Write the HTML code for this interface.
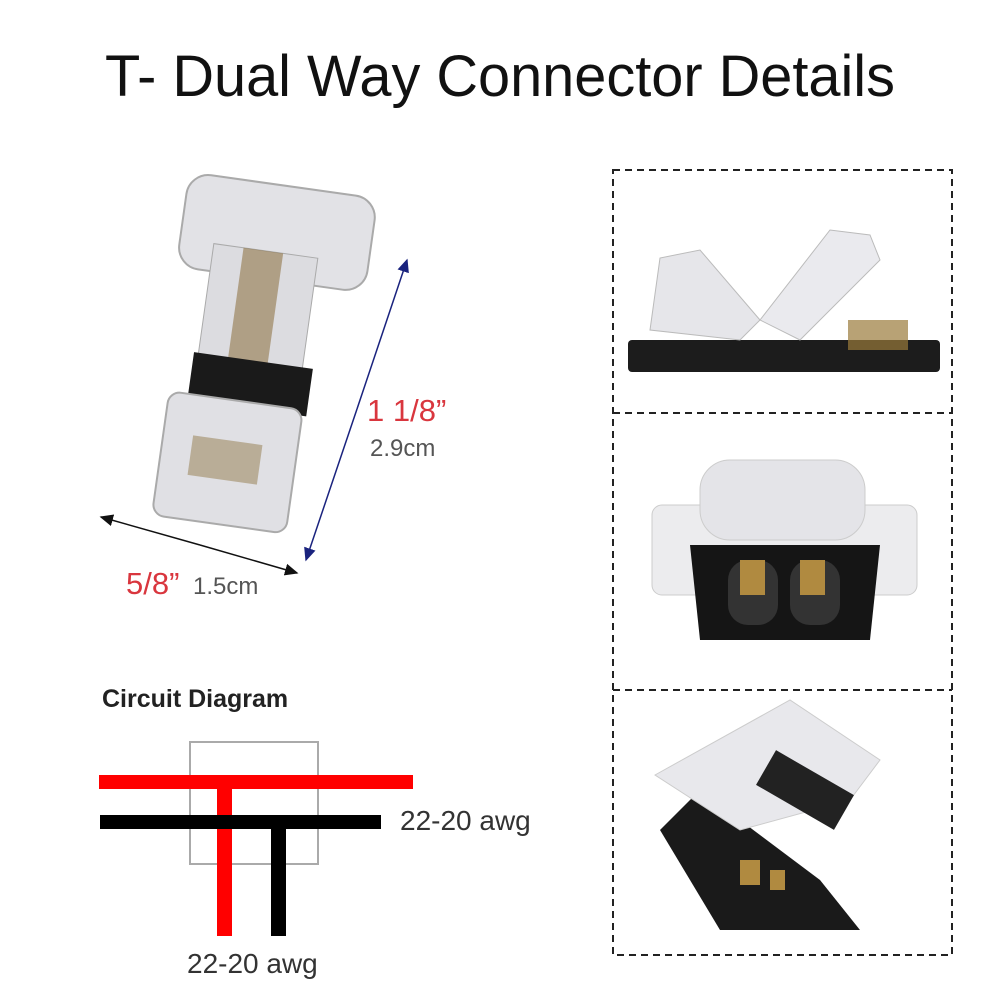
<!DOCTYPE html>
<html><head><meta charset="utf-8"><style>
body{margin:0;background:#fff;width:1000px;height:1000px;overflow:hidden;font-family:"Liberation Sans",sans-serif}
</style></head><body>
<svg width="1000" height="1000" viewBox="0 0 1000 1000" xmlns="http://www.w3.org/2000/svg">
<text x="500" y="96" font-size="58" text-anchor="middle" fill="#111" font-family="Liberation Sans" textLength="790" lengthAdjust="spacingAndGlyphs">T- Dual Way Connector Details</text>

<!-- left connector approx -->
<g>
<rect x="182" y="185" width="190" height="95" rx="22" fill="#e2e2e6" stroke="#aaa" stroke-width="2" transform="rotate(8 277 232)"/>
<rect x="205" y="250" width="105" height="120" fill="#dcdce0" stroke="#aaa" transform="rotate(8 255 310)"/>
<rect x="235" y="250" width="40" height="120" fill="#8a6e3a" opacity="0.55" transform="rotate(8 255 310)"/>
<rect x="190" y="360" width="120" height="48" fill="#1a1a1a" transform="rotate(8 248 385)"/>
<rect x="160" y="400" width="135" height="125" rx="12" fill="#e0e0e4" stroke="#aaa" stroke-width="2" transform="rotate(8 228 462)"/>
<rect x="190" y="440" width="70" height="40" fill="#8a6e3a" opacity="0.45" transform="rotate(8 225 460)"/>
</g>

<defs>
<marker id="ab" markerWidth="10" markerHeight="10" refX="8" refY="5" orient="auto"><path d="M0,1 L9,5 L0,9 z" fill="#1a237e"/></marker>
<marker id="ak" markerWidth="10" markerHeight="10" refX="8" refY="5" orient="auto"><path d="M0,1 L9,5 L0,9 z" fill="#111"/></marker>
</defs>
<line x1="357" y1="409" x2="407" y2="260" stroke="#1a237e" stroke-width="1.5" marker-end="url(#ab)"/>
<line x1="357" y1="409" x2="306" y2="560" stroke="#1a237e" stroke-width="1.5" marker-end="url(#ab)"/>
<line x1="200" y1="545" x2="101" y2="517" stroke="#111" stroke-width="1.5" marker-end="url(#ak)"/>
<line x1="200" y1="545" x2="297" y2="573" stroke="#111" stroke-width="1.5" marker-end="url(#ak)"/>
<text x="367" y="421" font-size="31" fill="#d9363e">1 1/8”</text>
<text x="370" y="456" font-size="24" fill="#555">2.9cm</text>
<text x="126" y="594" font-size="31" fill="#d9363e">5/8”</text>
<text x="193" y="594" font-size="24" fill="#555">1.5cm</text>

<text x="102" y="707" font-size="25" font-weight="bold" fill="#222">Circuit Diagram</text>
<rect x="190" y="742" width="128" height="122" fill="none" stroke="#aaa" stroke-width="2"/>
<rect x="99" y="775" width="314" height="14" fill="#f00"/>
<rect x="217" y="789" width="15" height="147" fill="#f00"/>
<rect x="100" y="815" width="281" height="14" fill="#000"/>
<rect x="271" y="829" width="15" height="107" fill="#000"/>
<text x="400" y="830" font-size="28" fill="#333">22-20 awg</text>
<text x="187" y="973" font-size="28" fill="#333">22-20 awg</text>

<g fill="none" stroke="#222" stroke-width="2" stroke-dasharray="7,5">
<rect x="613" y="170" width="339" height="785"/>
<line x1="613" y1="413" x2="952" y2="413"/>
<line x1="613" y1="690" x2="952" y2="690"/>
</g>

<rect x="628" y="340" width="312" height="32" rx="4" fill="#1c1c1c"/>
<path d="M650,330 L660,258 L700,250 L760,320 L740,340 Z" fill="#e6e6ea" stroke="#bbb"/>
<path d="M760,320 L830,230 L870,235 L880,260 L800,340 Z" fill="#eaeaee" stroke="#bbb"/>
<rect x="848" y="320" width="60" height="30" fill="#9a7a3a" opacity="0.7"/>

<rect x="652" y="505" width="265" height="90" rx="10" fill="#ececee" stroke="#ccc"/>
<rect x="700" y="460" width="165" height="80" rx="30" fill="#e4e4e8" stroke="#ccc"/>
<path d="M690,545 L880,545 L870,640 L700,640 Z" fill="#151515"/>
<rect x="728" y="560" width="50" height="65" rx="20" fill="#333"/>
<rect x="790" y="560" width="50" height="65" rx="20" fill="#333"/>
<rect x="740" y="560" width="25" height="35" fill="#b08a40"/>
<rect x="800" y="560" width="25" height="35" fill="#b08a40"/>

<path d="M660,830 L700,790 L820,880 L860,930 L720,930 Z" fill="#1a1a1a"/>
<path d="M655,775 L790,700 L880,760 L850,800 L740,830 Z" fill="#e8e8ec" stroke="#ccc"/>
<rect x="760" y="770" width="90" height="40" fill="#222" transform="rotate(30 805 790)"/>
<rect x="740" y="860" width="20" height="25" fill="#b08a40"/>
<rect x="770" y="870" width="15" height="20" fill="#b08a40"/>
</svg>
</body></html>
